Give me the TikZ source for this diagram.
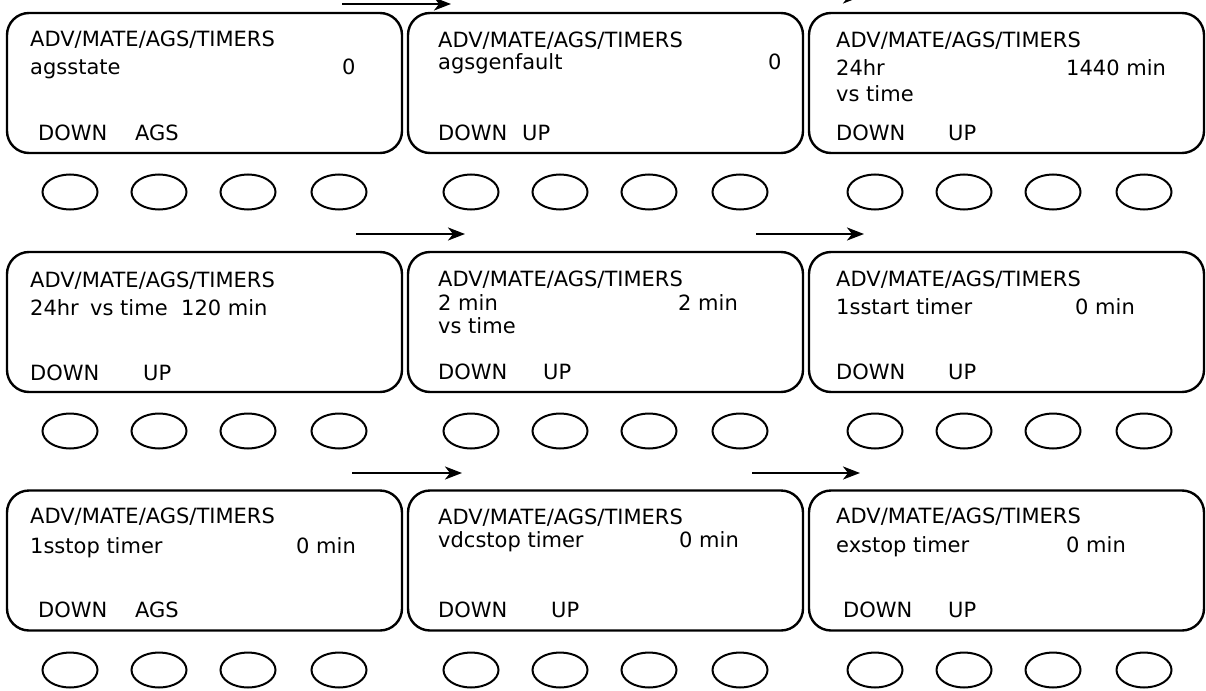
\documentclass[tikz,border=0pt]{standalone}
\usepackage{fontspec}
\setmainfont{DejaVu Sans}
\usetikzlibrary{shapes.geometric,arrows.meta}
\begin{document}
\begin{tikzpicture}[x=1pt,y=-1pt,
 panel/.style={draw,line width=2.4pt,rounded corners=22pt,minimum width=395pt,minimum height=140pt,inner sep=0pt},
 btn/.style={draw,ellipse,line width=2pt,minimum width=55pt,minimum height=35pt,inner sep=0pt},
 lbl/.style={anchor=base west,inner sep=0pt,font=\fontsize{21}{25}\selectfont},
 arr/.style={line width=2.4pt,-{Stealth[length=17pt,width=13pt,inset=5pt]}}]
\useasboundingbox (0,0) rectangle (1206,690);

% panels
\node[panel] (p11) at (204.5,83) {};
\node[panel] (p12) at (605.5,83) {};
\node[panel] (p13) at (1006.5,83) {};
\node[panel] (p21) at (204.5,322) {};
\node[panel] (p22) at (605.5,322) {};
\node[panel] (p23) at (1006.5,322) {};
\node[panel] (p31) at (204.5,560.5) {};
\node[panel] (p32) at (605.5,560.5) {};
\node[panel] (p33) at (1006.5,560.5) {};

% buttons
\foreach \r/\y in {1/192,2/431,3/670}{
  \foreach \c/\x in {1/7,2/408,3/812}{
    \foreach \k/\d in {a/63,b/152,c/241,d/332}{
      \node[btn] (k\r\c\k) at (\x+\d,\y) {};
    }
  }
}

% arrows
\coordinate (a1s) at (342,4);   \coordinate (a1e) at (451,4);
\coordinate (a2s) at (752,-3);  \coordinate (a2e) at (860,-3);
\coordinate (a3s) at (356,234); \coordinate (a3e) at (465,234);
\coordinate (a4s) at (756,234); \coordinate (a4e) at (864,234);
\coordinate (a5s) at (352,473); \coordinate (a5e) at (462,473);
\coordinate (a6s) at (752,473); \coordinate (a6e) at (860,473);
\draw[arr] (a1s) -- (a1e);
\draw[arr] (a2s) -- (a2e);
\draw[arr] (a3s) -- (a3e);
\draw[arr] (a4s) -- (a4e);
\draw[arr] (a5s) -- (a5e);
\draw[arr] (a6s) -- (a6e);

% row 1 texts
\node[lbl] (t11a) at (30,47) {ADV/MATE/AGS/TIMERS};
\node[lbl] (t11b) at (30,75) {agsstate};
\node[lbl] (t11c) at (342,75) {0};
\node[lbl] (t11d) at (38,140) {DOWN};
\node[lbl] (t11e) at (135,140) {AGS};

\node[lbl] (t12a) at (438,48) {ADV/MATE/AGS/TIMERS};
\node[lbl] (t12b) at (438,70) {agsgenfault};
\node[lbl] (t12c) at (768,70) {0};
\node[lbl] (t12d) at (438,140) {DOWN};
\node[lbl] (t12e) at (522,140) {UP};

\node[lbl] (t13a) at (836,48) {ADV/MATE/AGS/TIMERS};
\node[lbl] (t13b) at (836,76) {24hr};
\node[lbl] (t13c) at (1066,76) {1440 min};
\node[lbl] (t13f) at (836,102) {vs time};
\node[lbl] (t13d) at (836,140) {DOWN};
\node[lbl] (t13e) at (948,140) {UP};

% row 2 texts
\node[lbl] (t21a) at (30,287) {ADV/MATE/AGS/TIMERS};
\node[lbl] (t21b) at (30,315) {24hr};
\node[lbl] (t21f) at (90,315) {vs time};
\node[lbl] (t21c) at (181,315) {120 min};
\node[lbl] (t21d) at (30,380) {DOWN};
\node[lbl] (t21e) at (143,380) {UP};

\node[lbl] (t22a) at (438,286) {ADV/MATE/AGS/TIMERS};
\node[lbl] (t22b) at (438,310) {2 min};
\node[lbl] (t22c) at (678,310) {2 min};
\node[lbl] (t22f) at (438,333) {vs time};
\node[lbl] (t22d) at (438,379) {DOWN};
\node[lbl] (t22e) at (543,379) {UP};

\node[lbl] (t23a) at (836,286) {ADV/MATE/AGS/TIMERS};
\node[lbl] (t23b) at (836,314) {1sstart timer};
\node[lbl] (t23c) at (1075,314) {0 min};
\node[lbl] (t23d) at (836,379) {DOWN};
\node[lbl] (t23e) at (948,379) {UP};

% row 3 texts
\node[lbl] (t31a) at (30,523) {ADV/MATE/AGS/TIMERS};
\node[lbl] (t31b) at (30,553) {1sstop timer};
\node[lbl] (t31c) at (296,553) {0 min};
\node[lbl] (t31d) at (38,617) {DOWN};
\node[lbl] (t31e) at (135,617) {AGS};

\node[lbl] (t32a) at (438,524) {ADV/MATE/AGS/TIMERS};
\node[lbl] (t32b) at (438,547) {vdcstop timer};
\node[lbl] (t32c) at (679,547) {0 min};
\node[lbl] (t32d) at (438,617) {DOWN};
\node[lbl] (t32e) at (551,617) {UP};

\node[lbl] (t33a) at (836,523) {ADV/MATE/AGS/TIMERS};
\node[lbl] (t33b) at (836,552) {exstop timer};
\node[lbl] (t33c) at (1066,552) {0 min};
\node[lbl] (t33d) at (843,617) {DOWN};
\node[lbl] (t33e) at (948,617) {UP};
\end{tikzpicture}
\end{document}
